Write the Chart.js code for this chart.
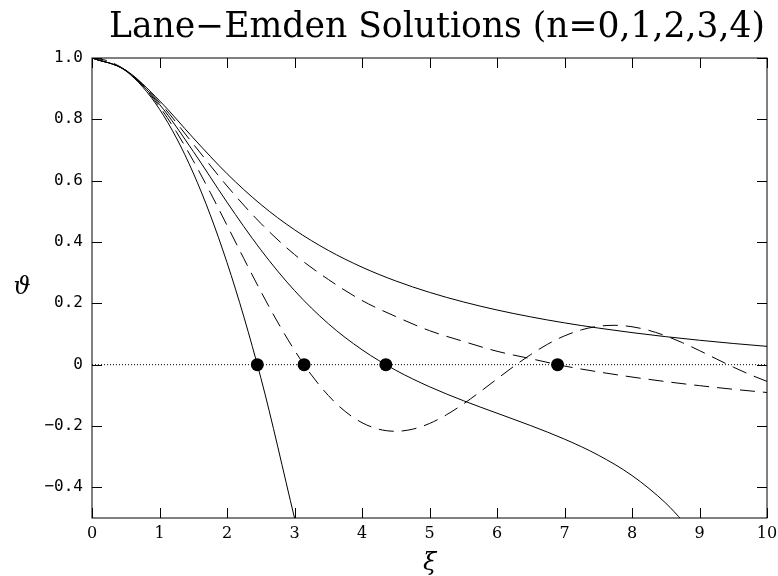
<!DOCTYPE html>
<html>
<head>
<meta charset="utf-8">
<script src="https://cdn.jsdelivr.net/npm/chart.js@4.4.0/dist/chart.umd.min.js"></script>
<style>
  html, body { margin: 0; padding: 0; background: #fff; }
  #wrap { width: 778px; height: 576px; }
</style>
</head>
<body>
<div id="wrap"><canvas id="laneEmden" width="778" height="576"></canvas></div>
<script>
// Lane-Emden solutions theta(xi)
const xiN0 = [0, 0.5, 1, 1.5, 2, 2.5, 3];
const thetaN0 = [1, 0.958, 0.833, 0.625, 0.333, -0.042, -0.5];

const xiQuarter = [0, 0.25, 0.5, 0.75, 1, 1.25, 1.5, 1.75, 2, 2.25, 2.5, 2.75, 3, 3.25, 3.5, 3.75, 4, 4.25, 4.5, 4.75,
    5, 5.25, 5.5, 5.75, 6, 6.25, 6.5, 6.75, 7, 7.25, 7.5, 7.75, 8, 8.25, 8.5, 8.75, 9, 9.25, 9.5, 9.75, 10];
const thetaN1 = [1, 0.9896, 0.9589, 0.9089, 0.8415, 0.7592, 0.6650, 0.5623, 0.4546, 0.3458, 0.2394, 0.1388, 0.0470,
    -0.0333, -0.1002, -0.1524, -0.1892, -0.2106, -0.2172, -0.2104, -0.1918, -0.1636, -0.1283, -0.0884, -0.0466,
    -0.0053, 0.0331, 0.0667, 0.0939, 0.1135, 0.1251, 0.1283, 0.1237, 0.1118, 0.0939, 0.0714, 0.0458, 0.0188,
    -0.0079, -0.0326, -0.0544];

const xiN2 = [0, 0.5, 1, 1.5, 2, 2.5, 3, 3.5, 4, 4.5, 5, 5.5, 6, 6.5, 7, 7.5, 8, 8.5, 8.75];
const thetaN2 = [1, 0.9594, 0.8487, 0.6954, 0.5298, 0.3747, 0.2417, 0.1338, 0.0487, -0.0182, -0.0720, -0.1173,
    -0.1582, -0.1988, -0.2428, -0.2950, -0.3615, -0.4515, -0.5095];

const xiHalf = [0, 0.5, 1, 1.5, 2, 2.5, 3, 3.5, 4, 4.5, 5, 5.5, 6, 6.5, 7, 7.5, 8, 8.5, 9, 9.5, 10];
const thetaN3 = [1, 0.9598, 0.8551, 0.7195, 0.5828, 0.4610, 0.3592, 0.2780, 0.2093, 0.1570, 0.1109, 0.0760,
    0.0437, 0.0195, -0.0044, -0.0235, -0.0403, -0.0552, -0.0684, -0.0802, -0.0908];
const thetaN4 = [1, 0.9603, 0.8608, 0.7393, 0.6229, 0.5226, 0.4399, 0.3727, 0.3179, 0.2730, 0.2358, 0.2047,
    0.1783, 0.1558, 0.1363, 0.1194, 0.1045, 0.0913, 0.0796, 0.0691, 0.0597];

// first zeros xi_1 marked with dots
const zeroXi = [2.449, 3.142, 4.353, 6.897];
const zeroTheta = [0, 0, 0, 0];

const axisX = [0, 10];
const axisZero = [0, 0];

const titleText = 'Lane\u2212Emden Solutions (n=0,1,2,3,4)';
const xLabel = '\u03BE';
const yLabel = '\u03D1';

const toPoints = (xs, ys) => xs.map((x, i) => ({ x: x, y: ys[i] }));

const curve = (xs, ys, dash) => ({
    data: toPoints(xs, ys),
    borderColor: '#000',
    borderWidth: 1,
    borderDash: dash,
    pointRadius: 0,
    cubicInterpolationMode: 'monotone',
    fill: false
});

// frame, inward ticks on all four sides, title and axis symbols
const framePlugin = {
    id: 'frame',
    afterDraw(chart) {
        const { ctx, chartArea: a, scales } = chart;
        const tick = 10;
        ctx.save();
        ctx.strokeStyle = '#000';
        ctx.lineWidth = 1;
        ctx.strokeRect(a.left, a.top, a.right - a.left, a.bottom - a.top);
        ctx.beginPath();
        scales.x.ticks.forEach(t => {
            const px = Math.round(scales.x.getPixelForValue(t.value)) + 0.5;
            ctx.moveTo(px, a.bottom); ctx.lineTo(px, a.bottom - tick);
            ctx.moveTo(px, a.top); ctx.lineTo(px, a.top + tick);
        });
        scales.y.ticks.forEach(t => {
            const py = Math.round(scales.y.getPixelForValue(t.value)) + 0.5;
            ctx.moveTo(a.left, py); ctx.lineTo(a.left + tick, py);
            ctx.moveTo(a.right, py); ctx.lineTo(a.right - tick, py);
        });
        ctx.stroke();

        ctx.fillStyle = '#000';
        ctx.textAlign = 'center';
        ctx.textBaseline = 'alphabetic';
        ctx.font = '34.6px "DejaVu Serif"';
        ctx.fillText(titleText, 437, 37);

        ctx.textBaseline = 'middle';
        ctx.font = 'italic 24px "DejaVu Serif"';
        ctx.fillText(xLabel, (a.left + a.right) / 2, 564);
        ctx.fillText(yLabel, 22, (a.top + a.bottom) / 2);
        ctx.restore();
    }
};

new Chart(document.getElementById('laneEmden'), {
    type: 'line',
    data: {
        datasets: [
            {
                data: toPoints(zeroXi, zeroTheta),
                showLine: false,
                pointRadius: 6.5,
                pointBackgroundColor: '#000',
                pointBorderColor: '#000',
                pointBorderWidth: 0
            },
            curve(xiN0, thetaN0, []),
            curve(xiQuarter, thetaN1, [15, 8]),
            curve(xiN2, thetaN2, []),
            curve(xiHalf, thetaN3, [15, 8]),
            curve(xiHalf, thetaN4, []),
            {
                data: toPoints(axisX, axisZero),
                borderColor: '#000',
                borderWidth: 1,
                borderDash: [1, 2],
                pointRadius: 0
            }
        ]
    },
    options: {
        responsive: false,
        animation: false,
        devicePixelRatio: 1,
        layout: { padding: { top: 58, right: 11, bottom: 0, left: 0 } },
        plugins: {
            legend: { display: false },
            tooltip: { enabled: false },
            title: { display: false }
        },
        scales: {
            x: {
                type: 'linear',
                min: 0,
                max: 10,
                grid: { display: false, drawTicks: false },
                border: { display: false },
                ticks: {
                    stepSize: 1,
                    padding: 6,
                    color: '#000',
                    maxRotation: 0,
                    font: { family: '"DejaVu Serif"', size: 16 }
                },
                afterFit(scale) {
                    scale.height = 58;
                    scale.paddingLeft = 0;
                    scale.paddingRight = 0;
                }
            },
            y: {
                type: 'linear',
                min: -0.5,
                max: 1.0,
                grid: { display: false, drawTicks: false },
                border: { display: false },
                ticks: {
                    stepSize: 0.2,
                    includeBounds: false,
                    padding: 9,
                    color: '#000',
                    font: { family: '"DejaVu Sans Mono"', size: 16 },
                    callback: v => Math.abs(v) < 1e-9 ? '0' : v.toFixed(1).replace('-', '\u2212')
                },
                afterFit(scale) {
                    scale.width = 92;
                    scale.paddingTop = 0;
                    scale.paddingBottom = 0;
                }
            }
        }
    },
    plugins: [framePlugin]
});
</script>
</body>
</html>
